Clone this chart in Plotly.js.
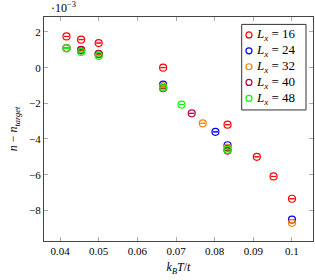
<!DOCTYPE html>
<html><head><meta charset="utf-8">
<script src="https://cdn.plot.ly/plotly-3.0.1.min.js"></script>
<style>html,body{margin:0;padding:0;background:#fff}#c{width:315px;height:280px}</style>
</head><body><div id="c"></div>
<script>
const sizes = [16, 24, 32, 40, 48];
const colors = ["#ff0000","#0000ff","#ff8000","#bf0040","#00ff00"];
// x = k_B T / t, y = n - n_target (units of 1e-3)
const x16 = [0.04167, 0.04545, 0.05, 0.06667, 0.08333, 0.09091, 0.09524, 0.1];
const y16 = [1.75, 1.57, 1.38, 0.0, -3.2, -5.0, -6.1, -7.35];
const x24 = [0.04167, 0.04545, 0.05, 0.06667, 0.0802, 0.08333, 0.1];
const y24 = [1.1, 0.97, 0.75, -0.95, -3.6, -4.35, -8.52];
const x32 = [0.04167, 0.04545, 0.05, 0.06667, 0.07692, 0.08333, 0.1];
const y32 = [1.1, 0.97, 0.75, -1.05, -3.12, -4.5, -8.7];
const x40 = [0.04545, 0.05, 0.06667, 0.07407, 0.08333];
const y40 = [1.0, 0.78, -1.15, -2.56, -4.65];
const x48 = [0.04167, 0.04545, 0.05, 0.06667, 0.07143, 0.08333];
const y48 = [1.08, 0.88, 0.66, -1.12, -2.07, -4.6];
const xsAll = [x16, x24, x32, x40, x48];
const ysAll = [y16, y24, y32, y40, y48];
const xTicks = [0.04,0.05,0.06,0.07,0.08,0.09,0.1];
const xTickText = ["0.04","0.05","0.06","0.07","0.08","0.09","0.1"];
const yTicks = [2,0,-2,-4,-6,-8];
const yTickText = ["2","0","−2","−4","−6","−8"];

const ff = "Liberation Serif, DejaVu Serif, serif";
const traces = xsAll.map((xs, i) => ({
  x: xs, y: ysAll[i], type: "scatter", mode: "markers",
  name: "<i>L<sub>x</sub></i> = " + sizes[i], showlegend: false,
  marker: {symbol: "circle-open", size: 7, color: colors[i], line: {width: 1.2, color: colors[i]}},
  error_y: {type: "constant", value: 0, visible: true, color: colors[i], thickness: 1, width: 2.5}
}));

// manual legend (box, circles, labels)
const lgX0 = 0.735, lgX1 = 0.974, lgY0 = 0.585, lgY1 = 0.967;
const lgMarkX = 0.762, lgTextX = 0.781;
const lgRows = [0.920, 0.849, 0.778, 0.708, 0.637];
const shapes = [{type: "rect", xref: "paper", yref: "paper", x0: lgX0, x1: lgX1, y0: lgY0, y1: lgY1,
  line: {color: "#333", width: 1}, fillcolor: "#fff", layer: "above"}];
const annotations = [{xref: "paper", yref: "paper", x: 0.02, y: 1.0, xanchor: "left", yanchor: "bottom",
  text: "·10<sup>−3</sup>", showarrow: false, font: {family: ff, size: 12, color: "#000"}}];
sizes.forEach((s, i) => {
  shapes.push({type: "circle", xref: "paper", yref: "paper", xsizemode: "pixel", ysizemode: "pixel",
    xanchor: lgMarkX, yanchor: lgRows[i], x0: -3, x1: 3, y0: -3, y1: 3,
    line: {color: colors[i], width: 1.2}, fillcolor: "rgba(0,0,0,0)", layer: "above"});
  annotations.push({xref: "paper", yref: "paper", x: lgTextX, y: lgRows[i], xanchor: "left", yanchor: "middle",
    text: "<i>L<sub>x</sub></i> = " + s, showarrow: false, font: {family: ff, size: 13, color: "#000"}});
});

const layout = {
  width: 315, height: 280,
  margin: {l: 44, r: 2, t: 17, b: 39},
  paper_bgcolor: "#fff", plot_bgcolor: "#fff",
  font: {family: ff, size: 11, color: "#000"},
  showlegend: false,
  xaxis: {range: [0.03585, 0.10544], tickvals: xTicks, ticktext: xTickText,
    ticks: "inside", ticklen: 4, tickcolor: "#aaa", mirror: "allticks",
    showline: true, linecolor: "#444", linewidth: 1, showgrid: false, zeroline: false,
    title: {text: "<i>k<sub>B</sub>T</i>/<i>t</i>", font: {family: ff, size: 12}, standoff: 6}},
  yaxis: {range: [-9.72, 2.84], tickvals: yTicks, ticktext: yTickText,
    ticks: "inside", ticklen: 4, tickcolor: "#aaa", mirror: "allticks",
    showline: true, linecolor: "#444", linewidth: 1, showgrid: false, zeroline: false,
    title: {text: "<i>n</i> − <i>n<sub>target</sub></i>", font: {family: ff, size: 12}, standoff: 8}},
  shapes: shapes,
  annotations: annotations
};
Plotly.newPlot("c", traces, layout, {displayModeBar: false, staticPlot: true});
</script></body></html>
